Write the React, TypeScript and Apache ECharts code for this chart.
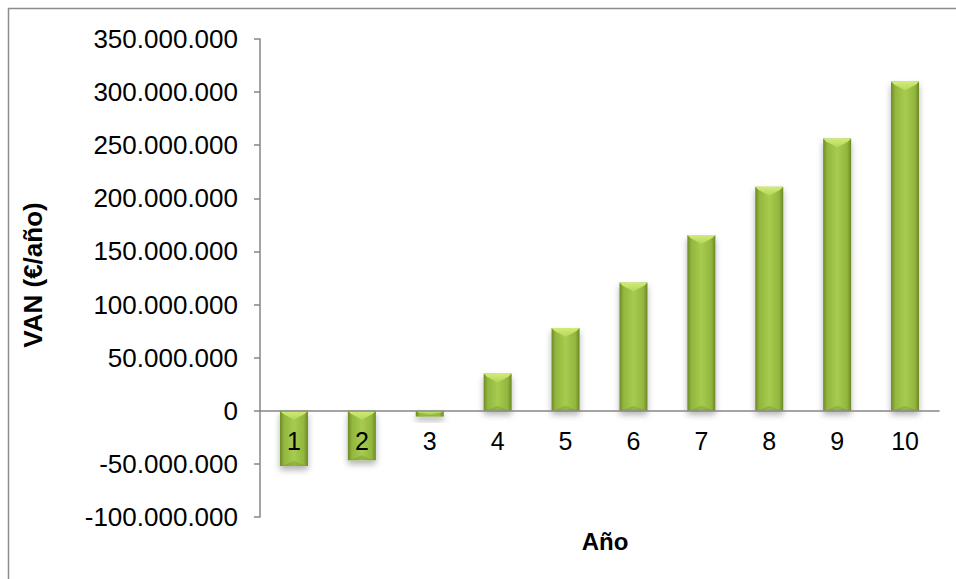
import React, { useEffect, useRef } from "react";
import * as echarts from "echarts";

const categories = ["1", "2", "3", "4", "5", "6", "7", "8", "9", "10"];
const vanValues = [-52000000, -46500000, -5500000, 35000000, 78000000, 120800000, 165500000, 211000000, 256300000, 310000000];
const yTicks = { min: -100000000, max: 350000000, interval: 50000000 };
const xTitle = "Año";
const yTitle = "VAN (€/año)";

const FONT = "'Liberation Sans', Arial, sans-serif";
const GRID = { left: 260, top: 39, right: 17, bottom: 62 };
const H = 579;

function fmt(v: number): string {
  const neg = v < 0;
  const s = Math.abs(Math.round(v)).toString().replace(/\B(?=(\d{3})+(?!\d))/g, ".");
  return (neg ? "-" : "") + s;
}

export default function App() {
  const ref = useRef<HTMLDivElement>(null);
  useEffect(() => {
    document.body.style.margin = "0";
    document.body.style.overflow = "hidden";
    const chart = echarts.init(ref.current!, null, { renderer: "svg" });
    const plotH = H - GRID.top - GRID.bottom;
    const zeroOffset = -plotH * (0 - yTicks.min) / (yTicks.max - yTicks.min);
    const barGrad = new echarts.graphic.LinearGradient(0, 0, 1, 0, [
      { offset: 0, color: "#6e8a27" },
      { offset: 0.15, color: "#92b73e" },
      { offset: 0.5, color: "#a6cb4e" },
      { offset: 0.85, color: "#92b73e" },
      { offset: 1, color: "#6c8725" },
    ]);
    chart.setOption({
      animation: false,
      backgroundColor: "#ffffff",
      grid: { ...GRID, containLabel: false },
      xAxis: {
        type: "category",
        data: categories,
        z: 10,
        offset: zeroOffset,
        axisLine: { onZero: false, lineStyle: { color: "#868686", width: 1.5 } },
        axisTick: { show: false },
        axisLabel: { fontSize: 25, color: "#000", fontFamily: FONT, margin: 18 },
        splitLine: { show: false },
      },
      yAxis: {
        type: "value",
        min: yTicks.min,
        max: yTicks.max,
        interval: yTicks.interval,
        axisLine: { show: true, onZero: false, lineStyle: { color: "#868686", width: 1.5 } },
        axisTick: { show: true, length: 6, lineStyle: { color: "#868686", width: 1.5 } },
        axisLabel: { fontSize: 26, color: "#000", fontFamily: FONT, margin: 22, formatter: (v: number) => fmt(v) },
        splitLine: { show: false },
      },
      series: [
        {
          type: "bar",
          data: vanValues,
          barWidth: 28,
          itemStyle: {
            color: barGrad,
            shadowColor: "rgba(0,0,0,0.3)",
            shadowBlur: 6,
            shadowOffsetY: 4,
          },
          z: 2,
        },
        {
          type: "custom",
          data: vanValues.map((v, i) => [i, v]),
          z: 3,
          silent: true,
          renderItem: (params: any, api: any) => {
            const idx = api.value(0);
            const val = api.value(1);
            const p = api.coord([idx, val]);
            const z0 = api.coord([idx, 0]);
            const w = 28;
            const xL = p[0] - w / 2;
            const xR = p[0] + w / 2;
            const top = Math.min(p[1], z0[1]);
            const bot = Math.max(p[1], z0[1]);
            const h = bot - top;
            const d = Math.min(9, h / 2);
            const e = Math.min(3, h / 3);
            const bd = Math.min(5, h / 3);
            return {
              type: "group",
              children: [
                {
                  type: "polygon",
                  shape: {
                    points: [
                      [xL, top],
                      [xR, top],
                      [xR - 3, top + e],
                      [p[0], top + d],
                      [xL + 3, top + e],
                    ],
                  },
                  style: {
                    fill: new echarts.graphic.LinearGradient(0, 0, 0, 1, [
                      { offset: 0, color: "#d2ec78" },
                      { offset: 1, color: "#b3d556" },
                    ]),
                  },
                },
                {
                  type: "polygon",
                  shape: {
                    points: [
                      [xL + 2, bot],
                      [xR - 2, bot],
                      [p[0], bot - bd],
                    ],
                  },
                  style: { fill: "rgba(90,115,30,0.25)" },
                },
              ],
            };
          },
        },
      ],
      graphic: [
        {
          type: "rect",
          shape: { x: 8.5, y: 8.5, width: 2000, height: 2000 },
          style: { fill: "none", stroke: "#8c8c8c", lineWidth: 1.5 },
          z: -1,
        },
        {
          type: "text",
          x: 605,
          y: 541,
          style: {
            text: xTitle,
            font: "bold 24px 'Liberation Sans', Arial, sans-serif",
            fill: "#000",
            align: "center",
            verticalAlign: "middle",
          },
        },
        {
          type: "text",
          x: 33,
          y: 275,
          rotation: Math.PI / 2,
          style: {
            text: yTitle,
            font: "bold 26px 'Liberation Sans', Arial, sans-serif",
            fill: "#000",
            align: "center",
            verticalAlign: "middle",
          },
        },
      ],
    });
    return () => chart.dispose();
  }, []);
  return <div ref={ref} style={{ width: 956, height: 579 }} />;
}
